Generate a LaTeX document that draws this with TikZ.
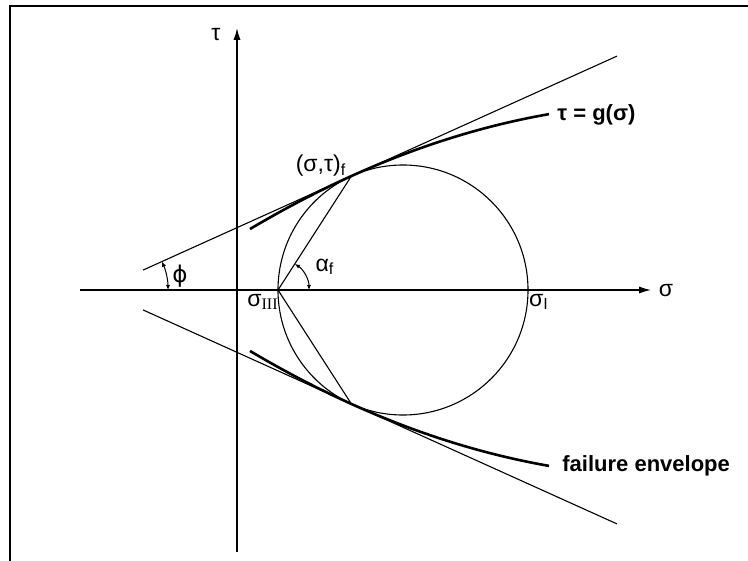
\documentclass[tikz,border=0pt]{standalone}
\usepackage{fontspec}
\setmainfont{Liberation Sans}
\newfontfamily\serifroman{Liberation Serif}
\newfontfamily\dejavu{DejaVu Sans}
\usetikzlibrary{arrows.meta}
\begin{document}
\begin{tikzpicture}[x=0.5pt,y=-0.5pt,
  axisline/.style={line width=0.75pt,-{Latex[length=6pt,width=3.6pt]}},
  tline/.style={line width=0.55pt},
  envline/.style={line width=1.3pt},
  anglearc/.style={line width=0.5pt,{Latex[length=2.6pt,width=2.2pt]}-{Latex[length=2.6pt,width=2.2pt]}},
  lbl/.style={font=\fontsize{11.5}{13}\selectfont, inner sep=0pt},
  blbl/.style={font=\fontsize{11}{13}\selectfont\bfseries, inner sep=0pt, anchor=west}]
\useasboundingbox (0,0) rectangle (748,561);
% frame
\coordinate (F1) at (10,561);
\coordinate (F2) at (10,6);
\coordinate (F3) at (748,6);
\draw[line width=1pt] (F1) -- (F2) -- (F3);
% key points
\coordinate (V) at (99,290);
\coordinate (C) at (403,290);
\coordinate (S3) at (278,290);
\coordinate (S1) at (528,290);
\coordinate (T1) at (351.5,175.9);
\coordinate (T2) at (351.5,404.1);
\coordinate (L1) at (143,270.1);
\coordinate (L2) at (617,56.1);
\coordinate (L3) at (143,309.9);
\coordinate (L4) at (617,523.9);
\coordinate (Xa) at (80,290);
\coordinate (Xb) at (651,290);
\coordinate (Ya) at (237,552);
\coordinate (Yb) at (237,28);
\coordinate (PA) at (168,290);
\coordinate (AA) at (309,290);
% axes
\draw[axisline] (Xa) -- (Xb);
\draw[axisline] (Ya) -- (Yb);
% Mohr circle
\draw[tline] (C) circle[radius=62.5pt];
% straight tangents
\draw[tline] (L1) -- (L2);
\draw[tline] (L3) -- (L4);
% chords
\draw[tline] (S3) -- (T1);
\draw[tline] (S3) -- (T2);
% curved envelopes
\draw[envline] plot[domain=250:549, samples=60] (\x, {290-0.4515*(\x-99)+7*((\x-351.5)/100)^2});
\draw[envline] plot[domain=250:549, samples=60] (\x, {290+0.4515*(\x-99)-7*((\x-351.5)/100)^2});
% angle arcs
\draw[anglearc] (PA) arc[start angle=0, end angle=24.3, radius=34.5pt];
\draw[anglearc] (AA) arc[start angle=0, end angle=57.2, radius=15.5pt];
% labels
\node[lbl] (tau) at (216,35) {τ};
\node[lbl] (sig) at (666,291) {σ};
\node[lbl] (s3) at (263,302) {σ\textsubscript{\serifroman III}};
\node[lbl] (s1) at (539,302) {σ\textsubscript{I}};
\node[lbl] (st) at (321,166) {(σ,τ)\textsubscript{f}};
\node[blbl] (g) at (557,115) {τ = g(σ)};
\node[blbl] (fe) at (562,466) {failure envelope};
\node[lbl] (af) at (325,267) {α\textsubscript{f}};
\node[lbl] (phi) at (180,276) {\dejavu ϕ};
\end{tikzpicture}
\end{document}
